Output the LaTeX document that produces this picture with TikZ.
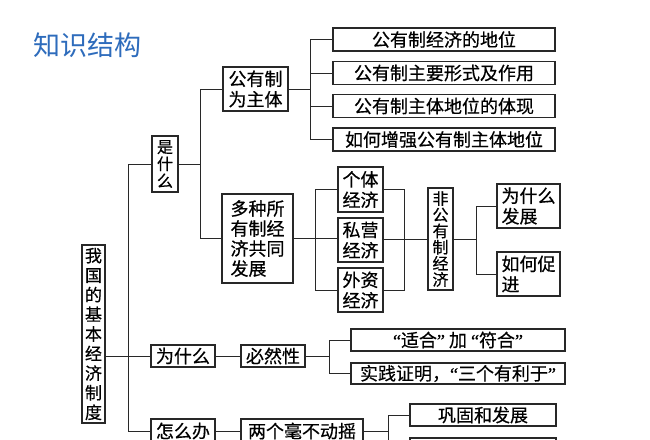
\documentclass[tikz,border=0pt]{standalone}
\usepackage{fontspec}
\newfontfamily\cjk{Noto Sans CJK SC}[FakeBold=0.5]
\newfontfamily\qfont{Liberation Serif}[FakeBold=0.5]
\newcommand\qo{{\qfont “}}
\newcommand\qc{{\qfont ”}}
\definecolor{titleblue}{RGB}{46,108,188}
\definecolor{linegray}{RGB}{40,40,40}
\tikzset{
  bx/.style={draw=linegray, line width=1.1pt, fill=white, inner sep=0pt, align=center,
    font=\cjk\fontsize{18}{20}\selectfont},
  bxl/.style={bx, align=left},
  conn/.style={draw=linegray, line width=1pt},
}
\begin{document}
\begin{tikzpicture}[x=1pt,y=-1pt]
\useasboundingbox (0,0) rectangle (650,439);
\clip (0,0) rectangle (650,439);
\fill[white] (0,0) rectangle (650,439);
% title
\node[font=\fontspec{Noto Sans CJK SC}\fontsize{27}{30}\selectfont, text=titleblue, inner sep=0pt] (title) at (87,45) {知识结构};
% coordinates of vertical bars
\coordinate (b1) at (128,0);
\coordinate (b2) at (200,0);
\coordinate (b3) at (310,0);
\coordinate (b4) at (315,0);
\coordinate (b5) at (404,0);
\coordinate (b6) at (476,0);
\coordinate (b7) at (329,0);
\coordinate (b8) at (388,0);
% nodes
\node[bx, minimum width=23pt, minimum height=178pt, font=\cjk\fontsize{17}{19.6}\selectfont] (main) at (93.5,334) {我\\国\\的\\基\\本\\经\\济\\制\\度};
\node[bx, minimum width=26pt, minimum height=56pt, font=\cjk\fontsize{16}{17}\selectfont] (shi) at (165,164) {是\\什\\么};
\node[bx, minimum width=65pt, minimum height=44pt, font=\cjk\fontsize{18}{20.5}\selectfont] (gy) at (255.5,89) {公有制\\为主体};
\node[bx, minimum width=222pt, minimum height=23pt] (r1) at (444,39.5) {公有制经济的地位};
\node[bx, minimum width=222pt, minimum height=23pt] (r2) at (444,73) {公有制主要形式及作用};
\node[bx, minimum width=222pt, minimum height=23pt] (r3) at (444,106) {公有制主体地位的体现};
\node[bx, minimum width=222pt, minimum height=23pt] (r4) at (444,139.5) {如何增强公有制主体地位};
\node[bxl, minimum width=71pt, minimum height=89pt, font=\cjk\fontsize{18}{20}\selectfont] (dz) at (257.5,238.5) {多种所\\有制经\\济共同\\发展};
\node[bx, minimum width=45pt, minimum height=45pt, font=\cjk\fontsize{18}{20.5}\selectfont] (gt) at (360.5,189.5) {个体\\经济};
\node[bx, minimum width=45pt, minimum height=44pt, font=\cjk\fontsize{18}{20.5}\selectfont] (sy) at (360.5,240) {私营\\经济};
\node[bx, minimum width=45pt, minimum height=44pt, font=\cjk\fontsize{18}{20.5}\selectfont] (wz) at (360.5,290) {外资\\经济};
\node[bx, minimum width=25pt, minimum height=102pt, font=\cjk\fontsize{16}{16.2}\selectfont] (fgy) at (440.5,239) {非\\公\\有\\制\\经\\济};
\node[bxl, minimum width=63pt, minimum height=44pt, font=\cjk\fontsize{18}{20.5}\selectfont] (wsf) at (528.5,206) {为什么\\发展};
\node[bxl, minimum width=63pt, minimum height=44pt, font=\cjk\fontsize{18}{20.5}\selectfont] (rhcj) at (528.5,274) {如何促\\进};
\node[bx, minimum width=64pt, minimum height=22pt] (wsm) at (183,356) {为什么};
\node[bx, minimum width=64pt, minimum height=22pt] (bir) at (273,356) {必然性};
\node[bx, minimum width=214pt, minimum height=22pt] (sh) at (458,340) {\qo 适合\qc\ 加\ \qo 符合\qc};
\node[bx, minimum width=214pt, minimum height=21pt] (sj) at (458,373.5) {实践证明，\qo 三个有利于\qc};
\node[bx, minimum width=64pt, minimum height=24pt] (zmb) at (183,431) {怎么办};
\node[bx, minimum width=122pt, minimum height=24pt] (lg) at (302,431) {两个毫不动摇};
\node[bx, minimum width=146pt, minimum height=22pt] (gg) at (483,415) {巩固和发展};
\node[bx, minimum width=146pt, minimum height=22pt] (e1) at (483,449) {};
% connectors
\path[conn] (main.east |- wsm.west) -- (wsm.west);
\path[conn] (shi.west) -- (shi.west -| b1) |- (zmb.west);
\path[conn] (shi.east) -- (shi.east -| b2);
\path[conn] (gy.west) -- (gy.west -| b2) |- (dz.west);
\path[conn] (gy.east) -- (gy.east -| b3);
\path[conn] (r1.west) -- (r1.west -| b3) |- (r4.west);
\path[conn] (r2.west) -- (r2.west -| b3);
\path[conn] (r3.west) -- (r3.west -| b3);
\path[conn] (dz.east) -- (dz.east -| sy.west);
\path[conn] (gt.west) -- (gt.west -| b4) |- (wz.west);
\path[conn] (gt.east) -- (gt.east -| b5) |- (wz.east);
\path[conn] (fgy.west) -- (fgy.west -| sy.east);
\path[conn] (fgy.east) -- (fgy.east -| b6);
\path[conn] (wsf.west) -- (wsf.west -| b6) |- (rhcj.west);
\path[conn] (wsm.east) -- (bir.west);
\path[conn] (bir.east) -- (bir.east -| b7);
\path[conn] (sh.west) -- (sh.west -| b7) |- (sj.west);
\path[conn] (zmb.east) -- (lg.west);
\path[conn] (lg.east) -- (lg.east -| b8);
\path[conn] (gg.west) -- (gg.west -| b8) |- (e1.west);
\end{tikzpicture}
\end{document}
